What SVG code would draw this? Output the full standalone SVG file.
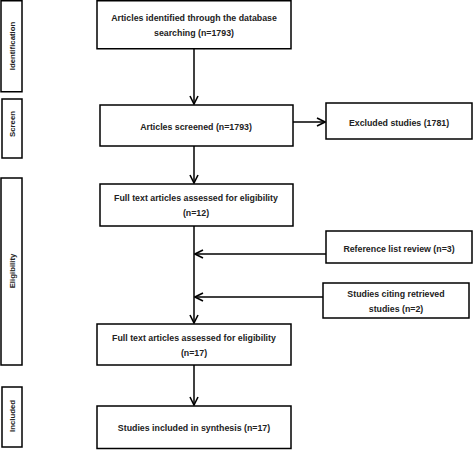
<svg xmlns="http://www.w3.org/2000/svg" width="473" height="450" viewBox="0 0 473 450">
<style>
.box{fill:#fff;stroke:#000;stroke-width:1.5}
.t{font-family:"Liberation Sans",Arial,sans-serif;font-weight:bold;font-size:8.8px;fill:#222;text-anchor:middle}
.s{font-family:"Liberation Sans",Arial,sans-serif;font-weight:bold;font-size:7.8px;fill:#222;text-anchor:middle}
.c{fill:none;stroke:#000;stroke-width:1.5}
</style>
<defs>
<marker id="ah" viewBox="0 0 10 10" refX="9" refY="5" markerWidth="10" markerHeight="10" markerUnits="userSpaceOnUse" orient="auto">
<polyline points="1,1 9,5 1,9" fill="none" stroke="#000" stroke-width="1.6"/>
</marker>
</defs>
<rect width="473" height="450" fill="#fff"/>
<g id="stage-identification"><rect class="box" x="1" y="0.75" width="21" height="91"/><text class="s" transform="translate(14.5,46) rotate(-90)">Identification</text></g>
<g id="stage-screen"><rect class="box" x="2" y="99" width="20" height="59"/><text class="s" transform="translate(14.5,124) rotate(-90)">Screen</text></g>
<g id="stage-eligibility"><rect class="box" x="1" y="178" width="21" height="187"/><text class="s" transform="translate(14.5,271) rotate(-90)">Eligibility</text></g>
<g id="stage-included"><rect class="box" x="2" y="387" width="20" height="60"/><text class="s" transform="translate(14.5,416) rotate(-90)">Included</text></g>
<g id="connectors">
<line class="c" x1="194" y1="49" x2="194" y2="104" marker-end="url(#ah)"/>
<line class="c" x1="293" y1="122" x2="325" y2="122" marker-end="url(#ah)"/>
<line class="c" x1="194" y1="146" x2="194" y2="183" marker-end="url(#ah)"/>
<line class="c" x1="194" y1="226" x2="194" y2="323" marker-end="url(#ah)"/>
<line class="c" x1="326" y1="254" x2="195" y2="254" marker-end="url(#ah)"/>
<line class="c" x1="323" y1="297" x2="195" y2="297" marker-end="url(#ah)"/>
<line class="c" x1="194" y1="365" x2="194" y2="405" marker-end="url(#ah)"/>
</g>
<g id="n1"><rect class="box" x="97" y="0.75" width="194" height="48"/><text class="t" x="194" y="21">Articles identified through the database</text><text class="t" x="194" y="36">searching (n=1793)</text></g>
<g id="n2"><rect class="box" x="100" y="105" width="193" height="41"/><text class="t" x="196" y="130">Articles screened (n=1793)</text></g>
<g id="n3"><rect class="box" x="326" y="103" width="146" height="36"/><text class="t" x="399" y="126">Excluded studies (1781)</text></g>
<g id="n4"><rect class="box" x="100" y="184" width="193" height="42"/><text class="t" x="196" y="201">Full text articles assessed for eligibility</text><text class="t" x="196" y="216">(n=12)</text></g>
<g id="n5"><rect class="box" x="326" y="231" width="146" height="32"/><text class="t" x="399" y="252">Reference list review (n=3)</text></g>
<g id="n6"><rect class="box" x="323" y="283" width="146" height="35"/><text class="t" x="396" y="297">Studies citing retrieved</text><text class="t" x="396" y="312">studies (n=2)</text></g>
<g id="n7"><rect class="box" x="97" y="324" width="194" height="41"/><text class="t" x="194" y="341">Full text articles assessed for eligibility</text><text class="t" x="194" y="356">(n=17)</text></g>
<g id="n8"><rect class="box" x="97" y="406" width="194" height="42.5"/><text class="t" x="194" y="431">Studies included in synthesis (n=17)</text></g>
</svg>
